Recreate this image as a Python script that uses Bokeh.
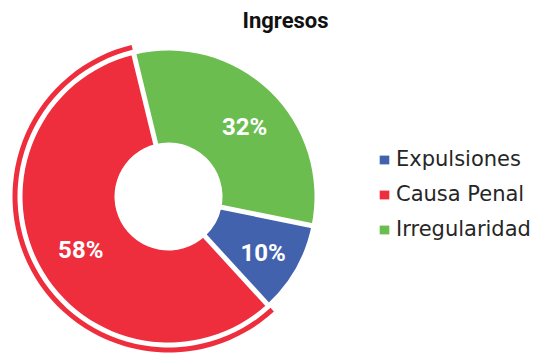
import numpy as np
from bokeh.plotting import figure
from bokeh.models import ColumnDataSource, Range1d, Legend, LegendItem, Label
from bokeh.core.properties import value
from bokeh.embed import file_html
from bokeh.resources import INLINE

# ---- data ----
categories = ["Expulsiones", "Causa Penal", "Irregularidad"]
shares = [10, 58, 32]
pct_labels = ["10%", "58%", "32%"]
colors = ["#4262AE", "#EE2E3D", "#6BBD50"]
chart_title = "Ingresos"
highlight = "Causa Penal"

# ---- geometry / style ----
W, H = 536, 358
cx, cy = 168, 162
r_in, r_out = 54, 146
ring_in, ring_out = 151, 156
offset = np.deg2rad(-11.5)

frac = np.array(shares, dtype=float) / sum(shares)
cum = np.concatenate([[0.0], np.cumsum(frac)])
start = offset - cum[:-1] * 2 * np.pi
end = offset - cum[1:] * 2 * np.pi
mid = (start + end) / 2
r_lab = (r_in + r_out) / 2 + 4

src = ColumnDataSource(dict(
    cat=categories, start=start, end=end, color=colors,
    lx=cx + r_lab * np.cos(mid), ly=cy + r_lab * np.sin(mid), lab=pct_labels,
))

p = figure(width=W, height=H, output_backend="svg", toolbar_location=None,
           x_range=Range1d(0, W), y_range=Range1d(0, H), min_border=0,
           tools="")
p.axis.visible = False
p.grid.visible = False
p.outline_line_color = None
p.background_fill_color = "white"

wr = p.annular_wedge(x=cx, y=cy, inner_radius=r_in, outer_radius=r_out,
                     start_angle="start", end_angle="end", direction="clock",
                     fill_color="color", line_color=None, source=src)

hi = categories.index(highlight)
ring_src = ColumnDataSource(dict(start=[start[hi]], end=[end[hi]], color=[colors[hi]]))
p.annular_wedge(x=cx, y=cy, inner_radius=ring_in, outer_radius=ring_out,
                start_angle="start", end_angle="end", direction="clock",
                fill_color="color", line_color=None, source=ring_src)

# white separators on slice boundaries
bsrc = ColumnDataSource(dict(
    x0=[cx] * len(start), y0=[cy] * len(start),
    x1=cx + (r_out + 2) * np.cos(start), y1=cy + (r_out + 2) * np.sin(start),
))
p.segment(x0="x0", y0="y0", x1="x1", y1="y1", line_color="white", line_width=5, source=bsrc)

p.text(x="lx", y="ly", text="lab", source=src, text_color="white",
       text_font=value("Roboto"), text_font_style="bold", text_font_size="24px",
       text_align="center", text_baseline="middle", x_offset=4, y_offset=5)

p.add_layout(Label(x=285, y=H - 20, text=chart_title, text_font="Roboto",
                   text_font_style="bold", text_font_size="22px", text_color="#111111",
                   text_align="center", text_baseline="middle"))

items = [LegendItem(label=c, renderers=[wr], index=i) for i, c in enumerate(categories)]
legend = Legend(items=items, location=(378, 117), padding=0, margin=0,
                border_line_color=None, background_fill_alpha=0,
                glyph_width=12, glyph_height=11, label_standoff=6, spacing=11,
                label_text_font="DejaVu Sans", label_text_font_size="21px",
                label_text_color="#262626")
p.add_layout(legend)

open("out.html", "w").write(file_html(p, INLINE))
